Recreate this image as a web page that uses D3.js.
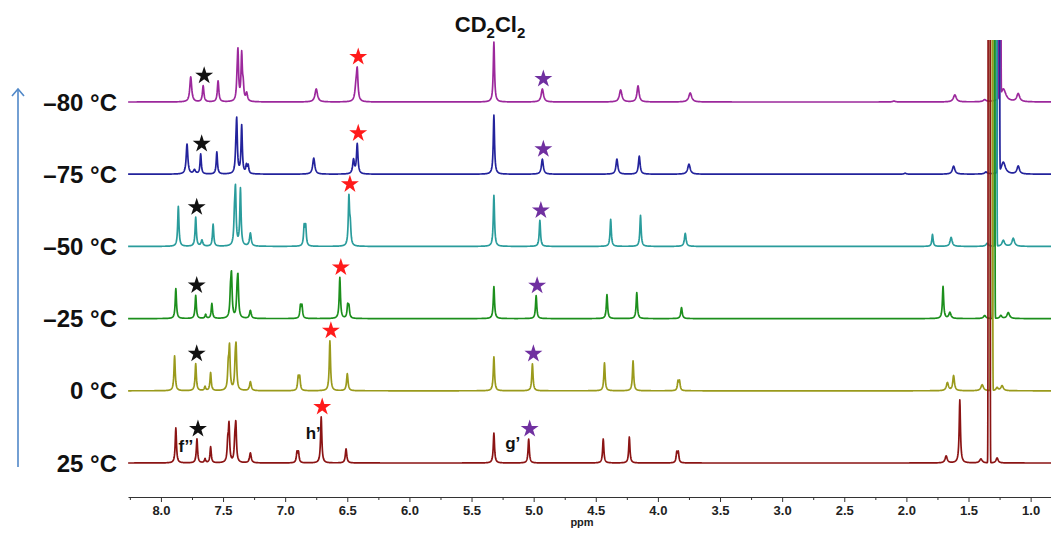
<!DOCTYPE html>
<html>
<head>
<meta charset="utf-8">
<script src="https://cdn.jsdelivr.net/npm/d3@7"></script>
<style>
  html, body { margin: 0; padding: 0; background: #fff; }
  svg { display: block; font-family: Arial, "Liberation Sans", sans-serif; }
</style>
</head>
<body>
<svg id="chart" width="1051" height="539"></svg>
<script>
// Variable-temperature 1H NMR spectra in CD2Cl2, stacked from 25 °C (bottom) to –80 °C (top)
const temperatures = ["25 °C", "0 °C", "–25 °C", "–50 °C", "–75 °C", "–80 °C"];
const traceColors = ["#8b1414", "#9a9a1c", "#1c8f1c", "#2a9c9c", "#23239c", "#9c289c"];

// Peaks: [ppm, intensity, half-width (ppm, default 0.006)]
const peaks25 = [[7.88,35],[7.71,24],[7.645,4],[7.60,16],[7.462,18],[7.452,36],[7.405,18],[7.397,35],[7.28,10,0.008],
  [6.905,10],[6.893,10],[6.71,46],[6.51,14,0.007],[5.32,30],[5.04,24],[4.44,24],[4.23,26],[3.848,10],[3.836,10],
  [1.68,7,0.01],[1.57,63],[1.40,4,0.012],[1.27,5,0.01]];
const peaks0 = [[7.89,35],[7.72,27],[7.645,4],[7.60,18],[7.458,22],[7.448,41],[7.402,22],[7.395,38],[7.28,9,0.008],
  [6.895,13],[6.883,13],[6.64,50],[6.50,17,0.007],[5.32,34],[5.01,27],[4.43,28],[4.20,30],[3.838,9],[3.826,9],
  [1.67,8,0.01],[1.62,15,0.008],[1.39,6,0.012],[1.27,3,0.01],[1.23,5,0.012]];
const peaksM25 = [[7.88,30],[7.72,23],[7.64,4],[7.59,15],[7.44,22],[7.432,39],[7.387,20],[7.38,36],[7.28,8,0.008],
  [6.877,12],[6.865,12],[6.56,41],[6.497,12],[6.487,11],[5.32,32],[4.98,23],[4.41,24],[4.17,26],[3.81,11,0.007],
  [1.705,32],[1.65,6,0.01],[1.37,3,0.012],[1.24,3,0.01],[1.18,6,0.012]];
const peaksM50 = [[7.86,40],[7.72,29],[7.67,6,0.008],[7.58,22],[7.408,24],[7.40,52],[7.36,57],[7.28,13,0.008],
  [6.847,19],[6.835,19],[6.487,48],[6.476,18],[5.32,51],[4.95,26],[4.38,27],[4.14,31],[3.78,13,0.008],
  [1.79,12],[1.64,9,0.01],[1.35,3,0.012],[1.22,6,0.012],[1.14,8,0.012]];
const peaksM75 = [[7.79,30,0.008],[7.73,4,0.01],[7.68,20],[7.55,22],[7.397,14],[7.39,50],[7.35,48],[7.312,8],[7.298,8],
  [6.77,16,0.01],[6.45,14,0.008],[6.42,30,0.007],[5.32,59],[4.93,15,0.009],[4.33,15,0.009],[4.15,18,0.008],
  [3.75,10,0.012],[2.01,1,0.01],[1.62,8,0.012],[1.36,2,0.012],[1.22,12,0.02],[1.10,8,0.012]];
const peaksM80 = [[7.76,25,0.009],[7.66,16,0.007],[7.54,21,0.007],[7.387,14],[7.38,46],[7.35,46],[7.338,14],[7.31,8,0.008],
  [6.75,13,0.012],[6.43,14,0.01],[6.42,28,0.007],[5.32,60],[4.93,13,0.011],[4.30,12,0.012],[4.16,16,0.01],
  [3.74,9,0.014],[2.10,1,0.012],[1.61,7,0.014],[1.37,2,0.014],[1.22,13,0.025],[1.10,8,0.014]];
const peakLists = [peaks25, peaks0, peaksM25, peaksM50, peaksM75, peaksM80];

// Off-scale aliphatic signal near 1.3 ppm in each trace (runs past the top of the plot)
const offScalePpm = [1.334, 1.314, 1.296, 1.280, 1.258, 1.248];
const offScaleIntensity = 20000;

// Marked signals: ppm of the starred peaks in each trace
const starBlack = [7.71, 7.72, 7.72, 7.72, 7.68, 7.66];
const starRed = [6.71, 6.64, 6.56, 6.487, 6.42, 6.42];
const starPurple = [5.04, 5.01, 4.98, 4.95, 4.93, 4.93];

const majorTicks = [8.0, 7.5, 7.0, 6.5, 6.0, 5.5, 5.0, 4.5, 4.0, 3.5, 3.0, 2.5, 2.0, 1.5, 1.0];
const minorTicks = [8.25, 7.75, 7.25, 6.75, 6.25, 5.75, 5.25, 4.75, 4.25, 3.75, 3.25, 2.75, 2.25, 1.75, 1.25];

const svg = d3.select("#chart");

const x = d3.scaleLinear().domain([8.265, 0.82]).range([128, 1053]);
const baseline = d3.scalePoint().domain(temperatures).range([463, 102]);
const yInt = d3.scaleLinear().domain([0, 100]).range([0, 100]);

function signal(list, offPpm, p) {
  let v = 0;
  for (const pk of list) {
    const w = pk[2] || 0.006;
    const t = (p - pk[0]) / w;
    v += pk[1] / (1 + t * t);
  }
  const s = 0.003, g = (p - offPpm) / s;
  v += offScaleIntensity * Math.exp(-0.5 * g * g);
  return v;
}

function samplePoints(list, offPpm) {
  const pts = d3.range(0.82, 8.266, 0.002);
  list.forEach(pk => pts.push(pk[0]));
  d3.range(offPpm - 0.025, offPpm + 0.025, 0.0002).forEach(p => pts.push(p));
  pts.sort((a, b) => b - a);
  return pts.map(p => ({ p, v: signal(list, offPpm, p) }));
}

svg.append("defs").append("clipPath").attr("id", "plotClip")
  .append("rect").attr("x", 128).attr("y", 40).attr("width", 930).attr("height", 460);

// Title
const title = svg.append("text").attr("x", 490).attr("y", 32).attr("text-anchor", "middle")
  .attr("font-size", 22).attr("font-weight", "bold").attr("fill", "#111");
title.append("tspan").text("CD");
title.append("tspan").attr("font-size", 15).attr("dy", 6).text("2");
title.append("tspan").attr("dy", -6).text("Cl");
title.append("tspan").attr("font-size", 15).attr("dy", 6).text("2");

// Temperature arrow
const arrowColor = "#5188c8";
svg.append("line").attr("x1", 18).attr("x2", 18).attr("y1", 467).attr("y2", 89)
  .attr("stroke", arrowColor).attr("stroke-width", 1.6);
svg.append("path").attr("d", "M12,96 L18,89 L24,96").attr("fill", "none")
  .attr("stroke", arrowColor).attr("stroke-width", 1.6);

// Temperature labels
svg.selectAll("text.temp").data(temperatures).join("text").attr("class", "temp")
  .attr("x", 117).attr("y", d => baseline(d) + 8.5).attr("text-anchor", "end")
  .attr("font-size", 24).attr("font-weight", "bold").attr("fill", "#111").text(d => d);

// Traces, top first so the lower traces' off-scale signals lie on top
const plot = svg.append("g").attr("clip-path", "url(#plotClip)");
const order = d3.range(temperatures.length).reverse();
order.forEach(i => {
  const b = baseline(temperatures[i]);
  const data = samplePoints(peakLists[i], offScalePpm[i]);
  const line = d3.line().x(d => x(d.p)).y(d => b - yInt(d.v));
  plot.append("path").datum(data).attr("d", line).attr("fill", "none")
    .attr("stroke", traceColors[i]).attr("stroke-width", 1.7).attr("stroke-linejoin", "round");
});

// Stars above marked peaks
const star = d3.symbol().type(d3.symbolStar).size(100);
const starSets = [[starBlack, "#111111"], [starRed, "#ff1a1a"], [starPurple, "#7030a0"]];
starSets.forEach(([ppms, color]) => {
  ppms.forEach((p, i) => {
    const b = baseline(temperatures[i]);
    const top = b - yInt(signal(peakLists[i], offScalePpm[i], p));
    svg.append("path").attr("d", star())
      .attr("transform", `translate(${x(p) + 1},${top - 10})`).attr("fill", color);
  });
});

// Peak assignments on the 25 °C trace
const assign = [["f’’", starBlack[0], -11, 452], ["h’", starRed[0], -8, 439], ["g’", starPurple[0], -16, 449]];
assign.forEach(([t, p, dx, yy]) => {
  svg.append("text").attr("x", x(p) + dx).attr("y", yy).attr("text-anchor", "middle")
    .attr("font-size", 17).attr("font-weight", "bold").attr("fill", "#111").text(t);
});

// ppm axis
const axisY = 497;
const axisG = svg.append("g").attr("transform", `translate(0,${axisY})`)
  .call(d3.axisBottom(x).tickValues(majorTicks).tickFormat(d3.format(".1f")).tickSize(5).tickSizeOuter(0).tickPadding(4));
axisG.select(".domain").attr("stroke", "#333");
axisG.selectAll(".tick line").attr("stroke", "#333");
axisG.selectAll(".tick text").attr("font-size", 13).attr("font-weight", "bold").attr("fill", "#222")
  .attr("font-family", "Arial, 'Liberation Sans', sans-serif");
const minorG = svg.append("g").attr("transform", `translate(0,${axisY})`)
  .call(d3.axisBottom(x).tickValues(minorTicks).tickFormat("").tickSize(3).tickSizeOuter(0));
minorG.select(".domain").remove();
minorG.selectAll(".tick line").attr("stroke", "#333");

svg.append("text").attr("x", 582).attr("y", 526).attr("text-anchor", "middle")
  .attr("font-size", 11).attr("font-weight", "bold").attr("fill", "#222").text("ppm");
</script>
</body>
</html>
